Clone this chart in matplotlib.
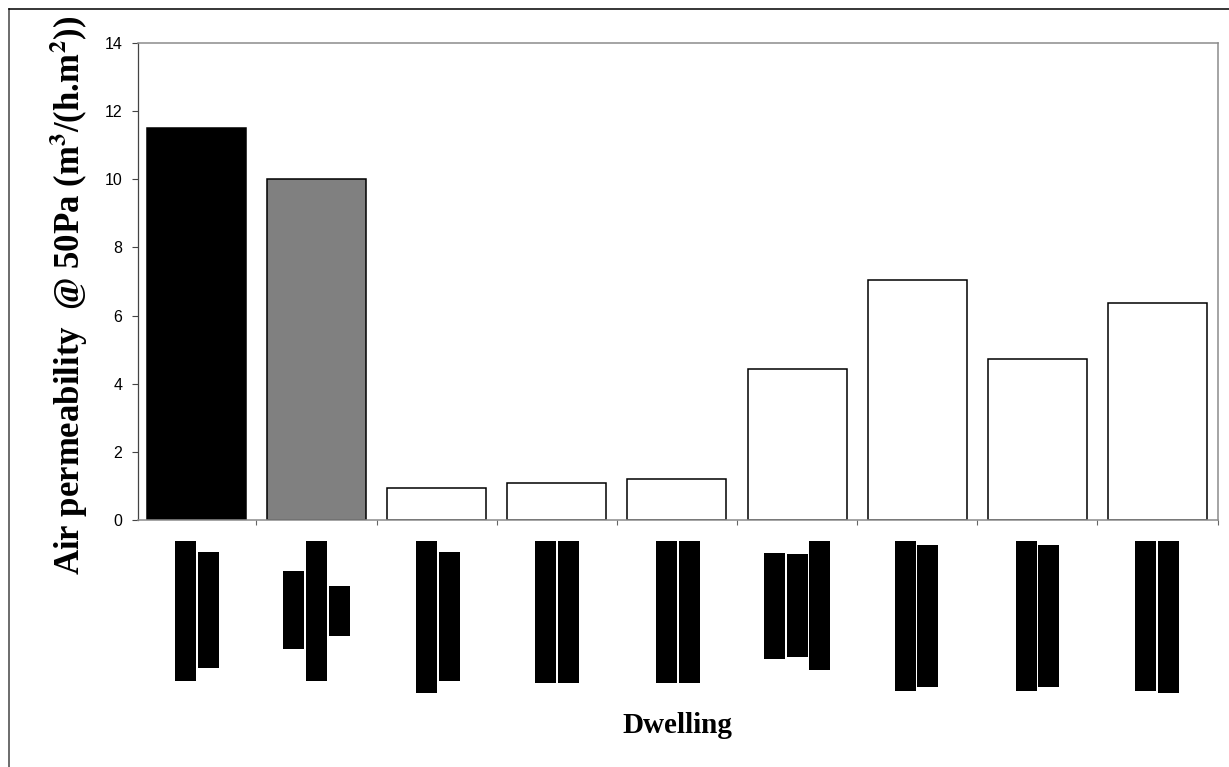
import matplotlib
matplotlib.use('Agg')
import matplotlib.pyplot as plt
from matplotlib.patches import Rectangle

W, H = 1229, 767

# dwelling values
values = [11.5, 10.0, 0.93, 1.08, 1.2, 4.42, 7.05, 4.72, 6.38]
colors = ['black', 'gray', 'white', 'white', 'white', 'white', 'white', 'white', 'white']
yticks = [0, 2, 4, 6, 8, 10, 12, 14]

# floor plan blocks under each bar, pixels: left, top, right, bottom
plans = [
    [(175, 541, 196, 681), (198, 552, 219, 668)],
    [(283, 571, 304, 649), (306, 541, 327, 681), (329, 586, 350, 636)],
    [(416, 541, 437, 693), (439, 552, 460, 681)],
    [(535, 541, 556, 683), (558, 541, 579, 683)],
    [(656, 541, 677, 683), (679, 541, 700, 683)],
    [(764, 553, 785, 659), (787, 554, 808, 657), (809, 541, 830, 670)],
    [(895, 541, 916, 691), (917, 545, 938, 687)],
    [(1016, 541, 1037, 691), (1038, 545, 1059, 687)],
    [(1135, 541, 1156, 691), (1158, 541, 1179, 693)],
]

fig = plt.figure(figsize=(W / 100, H / 100), dpi=100)

# whole-figure axes in pixel coordinates for the frame and floor plans
bg = fig.add_axes([0, 0, 1, 1])
bg.set_xlim(0, W)
bg.set_ylim(H, 0)
bg.axis('off')
bg.plot([9, 9], [H, 9], color='#444444', lw=1.1)
bg.plot([9, W], [9, 9], color='black', lw=1.1)
for plan in plans:
    for x0, y0, x1, y1 in plan:
        bg.add_patch(Rectangle((x0, y0), x1 - x0, y1 - y0, color='black', lw=0))

ax = fig.add_axes([138 / W, 1 - 520 / H, (1218 - 138) / W, (520 - 43) / H])
ax.patch.set_alpha(0)
ax.bar(range(len(values)), values, width=0.825, color=colors, edgecolor='black', linewidth=1.1)
ax.set_xlim(-0.485, 8.503)
ax.set_ylim(0, 14)
ax.set_yticks(yticks)
ax.set_xticks([i + 0.5 for i in range(len(values))])
ax.set_xticklabels([])
ax.tick_params(axis='y', length=4.3, width=0.8, color='#444444', direction='out', pad=7)
ax.tick_params(axis='x', length=3.6, width=0.8, color='#666666', direction='out')
for label in ax.get_yticklabels():
    label.set_family(['Liberation Sans Narrow', 'Liberation Sans'])
    label.set_fontsize(11.5)
for side in ['top', 'right', 'bottom', 'left']:
    ax.spines[side].set_color('#8c8c8c')
    ax.spines[side].set_linewidth(1.1)
ax.spines['left'].set_color('#444444')
ax.spines['left'].set_linewidth(0.9)

fig.text(80 / W, 1 - 295 / H, r'Air permeability  @ 50Pa (m$^{\mathbf{3}}$/(h.m$^{\mathbf{2}}$))',
         rotation=90, rotation_mode='anchor', ha='center', va='baseline', fontsize=25,
         fontweight='bold', family='Liberation Serif', math_fontfamily='stix')
fig.text(677 / W, 1 - 733 / H, 'Dwelling', ha='center', va='baseline', fontsize=21,
         fontweight='bold', family='Liberation Serif')

fig.savefig('out.png', dpi=100)
